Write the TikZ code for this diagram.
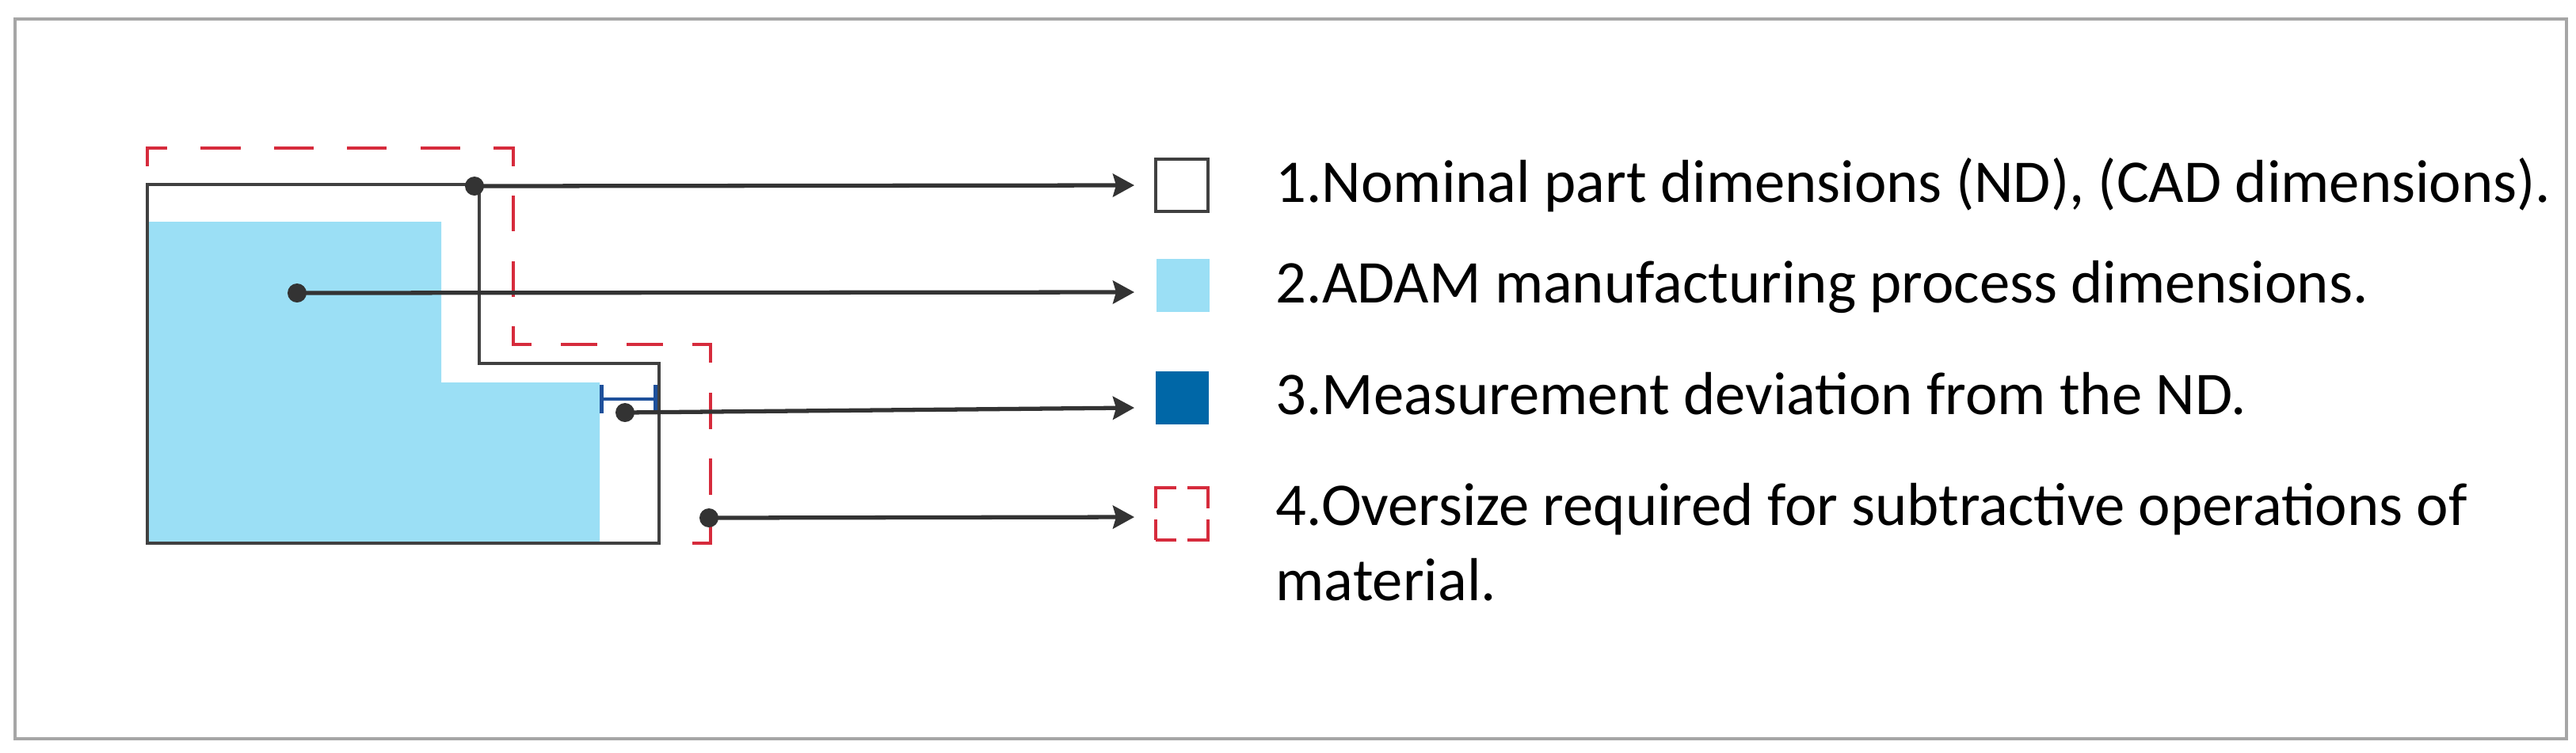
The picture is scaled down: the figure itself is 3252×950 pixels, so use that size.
\documentclass[tikz,border=0pt]{standalone}
\usepackage{fontspec}
\setmainfont{Carlito}
\usepackage{tikz}
\usetikzlibrary{arrows.meta, positioning, calc}
\definecolor{ndGray}{RGB}{64,64,64}
\definecolor{admBlue}{RGB}{155,223,245}
\definecolor{devBlue}{RGB}{0,103,167}
\definecolor{barBlue}{RGB}{30,80,155}
\definecolor{ovRed}{RGB}{214,43,60}
\definecolor{frameGray}{RGB}{166,166,166}
\colorlet{lead}{black!80}
\tikzstyle{frame}=[draw=frameGray, line width=1.1pt]
\tikzstyle{adamFill}=[fill=admBlue]
\tikzstyle{nominal}=[draw=ndGray, line width=0.9pt]
\tikzstyle{oversize}=[draw=ovRed, line width=1.1pt, line cap=rect]
\tikzstyle{devBar}=[draw=barBlue, line width=1.4pt, {Bar[width=0.36cm]}-{Bar[width=0.36cm]}]
\tikzstyle{arrow}=[-{Stealth[length=0.27cm, width=0.29cm, inset=0.04cm]}, line width=1.5pt, draw=lead]
\tikzstyle{leadDot}=[fill=lead]
\tikzstyle{legendBox}=[minimum size=0.66cm, inner sep=0pt, line width=1.1pt]
\tikzstyle{legendText}=[anchor=base west, inner sep=0pt, align=left,
  font=\fontsize{21.8pt}{27pt}\selectfont]

\begin{document}
\begin{tikzpicture}[x=0.01cm, y=-0.01cm]
      \useasboundingbox (0,0) rectangle (3252,950);
      \draw[frame] (19,24) rectangle (3240,933);

      % ADAM process shape
      \coordinate (a1) at (186,280);
      \coordinate (a2) at (557,280);
      \coordinate (a3) at (557,483);
      \coordinate (a4) at (757,483);
      \coordinate (a5) at (757,686);
      \coordinate (a6) at (186,686);
      \path[adamFill] (a1) -- (a2) -- (a3) -- (a4) -- (a5) -- (a6) -- cycle;

      % nominal part
      \coordinate (n1) at (186,233);
      \coordinate (n2) at (605,233);
      \coordinate (n3) at (605,459);
      \coordinate (n4) at (832,459);
      \coordinate (n5) at (832,686);
      \coordinate (n6) at (186,686);
      \draw[nominal] (n1) -- (n2) -- (n3) -- (n4) -- (n5) -- (n6) -- cycle;

      % oversize
      \coordinate (o0) at (186,208);
      \coordinate (o1) at (186,187);
      \coordinate (o2) at (648,187);
      \coordinate (o3) at (648,435);
      \coordinate (o4) at (897,435);
      \coordinate (o5) at (897,686);
      \coordinate (o6) at (876,686);
      \draw[oversize] (o0) -- (o1);
      \draw[oversize, dash pattern=on 4.62mm off 4.62mm, dash phase=2.31mm] (o1) -- (o2);
      \draw[oversize, dash pattern=on 4.13mm off 4.13mm, dash phase=2.07mm] (o2) -- (o3);
      \draw[oversize, dash pattern=on 4.15mm off 4.15mm, dash phase=2.08mm] (o3) -- (o4);
      \draw[oversize, dash pattern=on 4.18mm off 4.18mm, dash phase=2.09mm] (o4) -- (o5);
      \draw[oversize] (o5) -- (o6);

      % deviation
      \coordinate (b1) at (757,504);
      \coordinate (b2) at (830,504);
      \draw[devBar] (b1) -- (b2);

      % legend
      \node[legendBox, draw=ndGray] (ndBox) at (1492,234) {};
      \node[legendBox, fill=admBlue, minimum size=0.67cm] (admBox) at (1493,360) {};
      \node[legendBox, fill=devBlue, minimum size=0.67cm] (devBox) at (1492,502) {};
      \node[legendBox, draw=ovRed, dash pattern=on 0.52cm off 0.14cm, dash phase=0.26cm] (ovBox) at (1492,649) {};

      \node[legendText] (ndText) at (1610,255) {1.Nominal part dimensions (ND), (CAD dimensions).};
      \node[legendText] (admText) at (1610,382) {2.ADAM manufacturing process dimensions.};
      \node[legendText] (devText) at (1610,523) {3.Measurement deviation from the ND.};
      \node[legendText] (ovText) at (1610,758) {4.Oversize required for subtractive operations of\\material.};

      % leaders
      \coordinate (pNom) at (599,235);
      \coordinate (pAdam) at (375,370);
      \coordinate (pDev) at (789,521);
      \coordinate (pOver) at (895,654);
      \coordinate (tNom) at (1432,234);
      \coordinate (tAdam) at (1432,369);
      \coordinate (tDev) at (1432,515);
      \coordinate (tOver) at (1432,653);

      \draw[arrow] (pNom) -- (tNom);
      \draw[arrow] (pAdam) -- (tAdam);
      \draw[arrow] (pDev) -- (tDev);
      \draw[arrow] (pOver) -- (tOver);
      \foreach \p in {pNom,pAdam,pDev,pOver}
      \fill[leadDot] (\p) circle (0.12cm);
    \end{tikzpicture}
\end{document}
